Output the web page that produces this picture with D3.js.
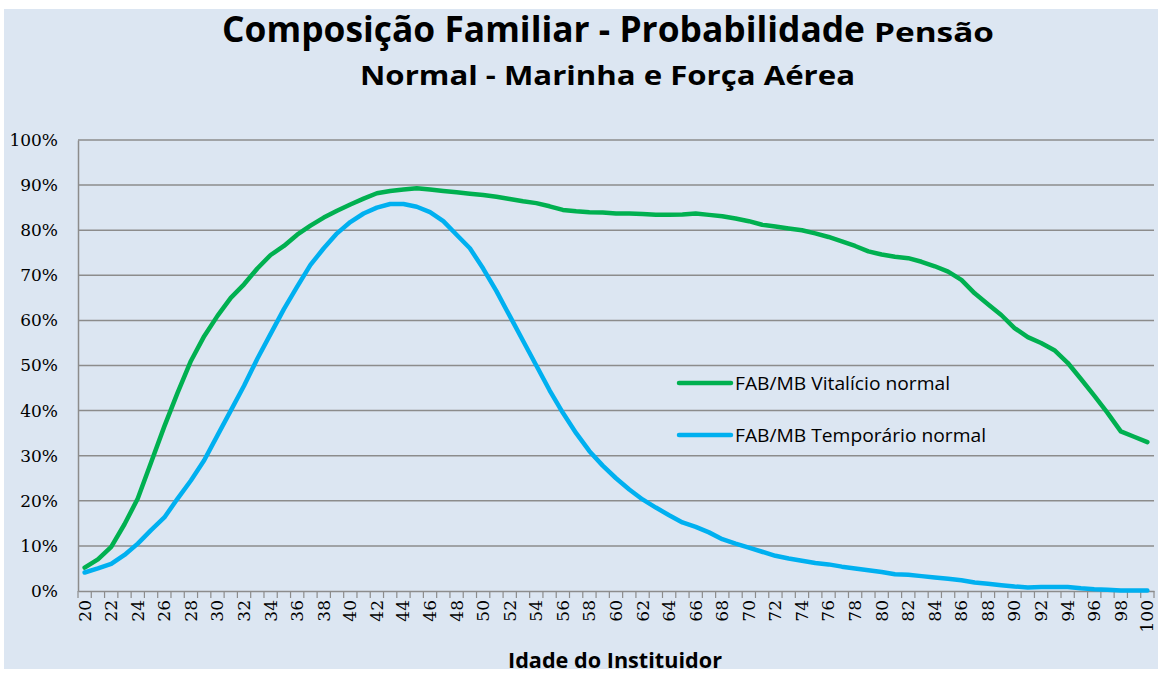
<!DOCTYPE html>
<html><head><meta charset="utf-8">
<script src="https://cdn.jsdelivr.net/npm/d3@7"></script>
<style>
html,body{margin:0;padding:0;background:#fff;}
svg{display:block;}
</style></head>
<body>
<svg id="chart" width="1158" height="673"></svg>
<script>
const ages = d3.range(20, 101);
const vitalicio = [5.2,7,9.8,14.8,20.5,28.5,36.5,44,51,56.5,61,65,68,71.5,74.5,76.5,79,81,82.8,84.3,85.7,87,88.2,88.7,89,89.3,89,88.7,88.4,88.1,87.8,87.4,86.9,86.4,86,85.3,84.5,84.2,84,83.9,83.7,83.7,83.6,83.4,83.4,83.5,83.7,83.4,83.1,82.6,82,81.2,80.8,80.4,80,79.3,78.5,77.5,76.5,75.3,74.6,74.1,73.8,73,72,70.8,69,66,63.6,61.2,58.3,56.3,55,53.4,50.6,47,43.3,39.5,35.4,34.2,33];
const temporario = [4.1,5,6,8,10.5,13.5,16.3,20.5,24.5,29,34.5,40,45.5,51.5,57,62.5,67.5,72.3,76,79.3,81.8,83.7,85,85.8,85.8,85.2,84,82,79,76,71.5,66.5,61,55.5,50,44.5,39.5,35,31,27.8,25,22.5,20.3,18.5,16.8,15.2,14.2,13,11.5,10.5,9.6,8.7,7.8,7.2,6.7,6.2,5.9,5.4,5,4.6,4.2,3.7,3.6,3.3,3,2.7,2.4,1.9,1.6,1.3,1.0,0.8,0.9,0.9,0.9,0.6,0.4,0.3,0.1,0.1,0.1];
const yTicks = [0,10,20,30,40,50,60,70,80,90,100];
const seriesNames = ["FAB/MB Vitalício normal", "FAB/MB Temporário normal"];
const seriesColors = ["#00b050", "#00b0f0"];

const svg = d3.select("#chart");
svg.append("rect").attr("x",4).attr("y",9).attr("width",1154).attr("height",660).attr("fill","#dce6f2");

const L = 78, R = 1154, T = 140, B = 591;
const x = d3.scaleBand().domain(ages).range([L, R]);
const y = d3.scaleLinear().domain([0, 100]).range([B, T]);

// gridlines
svg.append("g").selectAll("line").data(yTicks.filter(d=>d>0)).join("line")
  .attr("x1", L).attr("x2", R).attr("y1", d=>y(d)).attr("y2", d=>y(d))
  .attr("stroke", "#8c8c8c").attr("stroke-width", 1.5);

// y axis
const yAxis = svg.append("g").attr("transform", `translate(${L},0)`)
  .call(d3.axisLeft(y).tickValues(yTicks).tickSize(0).tickPadding(20).tickFormat(d => d + "%"));
yAxis.select(".domain").attr("stroke", "#8c8c8c").attr("stroke-width", 1.5);
yAxis.selectAll("text").attr("font-family", "'DejaVu Serif', 'Liberation Serif', serif")
  .attr("font-size", 17).attr("fill", "#000");

// x axis
const xAxis = svg.append("g").attr("transform", `translate(0,${B})`)
  .call(d3.axisBottom(x).tickSize(0).tickFormat(d => d % 2 === 0 ? d : ""));
xAxis.select(".domain").attr("stroke", "#8c8c8c").attr("stroke-width", 1.5);
xAxis.selectAll("text")
  .attr("font-family", "'DejaVu Serif', 'Liberation Serif', serif")
  .attr("font-size", 17).attr("fill", "#000")
  .attr("transform", "rotate(-90)")
  .attr("text-anchor", "end").attr("dy", "0.35em").attr("x", -9).attr("y", 0);
// boundary tick marks
svg.append("g").selectAll("line").data(ages.concat([101])).join("line")
  .attr("x1", d => d <= 100 ? x(d) : R).attr("x2", d => d <= 100 ? x(d) : R)
  .attr("y1", B).attr("y2", B + 7)
  .attr("stroke", "#8c8c8c").attr("stroke-width", 1.2);

// lines
const line = d3.line().x((d,i) => x(ages[i]) + x.bandwidth()/2).y(d => y(d));
[vitalicio, temporario].forEach((s, i) => {
  svg.append("path").datum(s).attr("d", line).attr("fill", "none")
    .attr("stroke", seriesColors[i]).attr("stroke-width", 4.5)
    .attr("stroke-linejoin", "round").attr("stroke-linecap", "round");
});

// legend
const tf = "'Liberation Sans Narrow', 'Open Sans', sans-serif";
const leg = svg.append("g");
seriesNames.forEach((n, i) => {
  const ly = 383 + i * 52;
  leg.append("line").attr("x1", 679).attr("x2", 731).attr("y1", ly).attr("y2", ly)
    .attr("stroke", seriesColors[i]).attr("stroke-width", 4.5).attr("stroke-linecap","round");
  leg.append("text").attr("x", 735).attr("y", ly + 7).text(n)
    .attr("font-family", tf)
    .attr("font-size", 19).attr("fill", "#000")
    .attr("textLength", i === 0 ? 215 : 251).attr("lengthAdjust", "spacingAndGlyphs");
});

// title
const t1 = svg.append("text").attr("x", 222).attr("y", 42).attr("font-family", tf)
  .attr("font-weight", "bold").attr("fill", "#000");
t1.append("tspan").attr("font-size", 35).text("Composição Familiar - Probabilidade")
  .attr("textLength", 643).attr("lengthAdjust", "spacingAndGlyphs");
t1.append("tspan").attr("font-size", 27).attr("dx", 9).text("Pensão")
  .attr("textLength", 120).attr("lengthAdjust", "spacingAndGlyphs");
svg.append("text").attr("x", 360).attr("y", 85).attr("font-family", tf)
  .attr("font-weight", "bold").attr("font-size", 27).attr("fill", "#000")
  .attr("textLength", 495).attr("lengthAdjust", "spacingAndGlyphs")
  .text("Normal - Marinha e Força Aérea");

// axis title
svg.append("text").attr("x", 615).attr("y", 668).attr("text-anchor", "middle")
  .attr("font-family", tf).attr("font-weight", "bold").attr("font-size", 21)
  .attr("fill", "#000").attr("textLength", 214).attr("lengthAdjust", "spacingAndGlyphs")
  .text("Idade do Instituidor");
</script>
</body></html>
